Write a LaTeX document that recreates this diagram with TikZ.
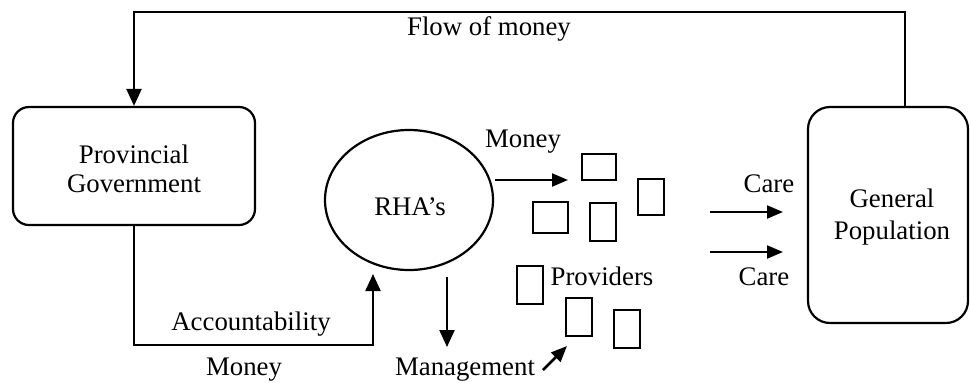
\documentclass[tikz,border=0pt]{standalone}
\usepackage{fontspec}
\setmainfont{Liberation Serif}
\usetikzlibrary{arrows.meta,shapes.geometric}
\begin{document}
\begin{tikzpicture}[x=0.5pt,y=-0.5pt,line width=1.1pt,
  arr/.style={-{Triangle[length=8.5pt,width=7.5pt]}},
  sarr/.style={-{Triangle[length=8pt,width=6.5pt]}},
  txt/.style={font=\fontsize{13.4}{14.5}\selectfont},
  lbl/.style={txt,inner sep=0pt,anchor=base},
  bigbox/.style={draw,txt,align=center,inner sep=0pt},
  prov/.style={draw,line width=1.1pt,inner sep=0pt}]
\useasboundingbox (0,0) rectangle (970,382);
% main nodes
\node[bigbox,rounded corners=8pt,minimum width=121pt,minimum height=59pt] (pg) at (134,166) {};
\node[lbl] (pgt1) at (134,163) {Provincial};
\node[lbl] (pgt2) at (134,192) {Government};
\node[bigbox,rounded corners=11pt,minimum width=80pt,minimum height=108pt] (gp) at (888,215) {};
\node[lbl] (gpt1) at (892,207) {General};
\node[lbl] (gpt2) at (892,239) {Population};
\node[draw,ellipse,inner sep=0pt,minimum width=84pt,minimum height=70pt] (rha) at (409,200) {};
\node[lbl] (rhat) at (410,215) {RHA’s};
% provider boxes
\node[prov,minimum width=17pt,minimum height=13pt] (b1) at (599,167) {};
\node[prov,minimum width=13pt,minimum height=18pt] (b2) at (651,197) {};
\node[prov,minimum width=17.5pt,minimum height=15.5pt] (b3) at (550.5,217.5) {};
\node[prov,minimum width=13pt,minimum height=19pt] (b4) at (603,222) {};
\node[prov,minimum width=13pt,minimum height=19pt] (b5) at (530,285) {};
\node[prov,minimum width=13pt,minimum height=19pt] (b6) at (579,317) {};
\node[prov,minimum width=13pt,minimum height=19pt] (b7) at (627,329) {};
% labels
\node[lbl] (flow) at (489,35) {Flow of money};
\node[lbl] (money1) at (523,147) {Money};
\node[lbl] (providers) at (602,285) {Providers};
\node[lbl] (care1) at (769,192) {Care};
\node[lbl] (care2) at (764,285) {Care};
\node[lbl] (acc) at (251,330) {Accountability};
\node[lbl] (money2) at (244,375) {Money};
\node[lbl] (mgmt) at (465,375) {Management};
% coordinates
\coordinate (accend) at (373,274);
\coordinate (mgs) at (447,277);
\coordinate (mge) at (447,347);
\coordinate (ms) at (495,180);
\coordinate (me) at (568,180);
\coordinate (c1s) at (710,212);
\coordinate (c1e) at (783,212);
\coordinate (c2s) at (710,252);
\coordinate (c2e) at (783,252);
\coordinate (sas) at (543,370);
\coordinate (sae) at (567,346);
\coordinate (gptop) at (905,107);
% connectors
\draw[arr] (gptop) -- ++(0,-95) -| (pg.north);
\draw[arr] (pg.south) |- (373,345) -- (accend);
\draw[arr] (mgs) -- (mge);
\draw[sarr] (ms) -- (me);
\draw[sarr] (c1s) -- (c1e);
\draw[sarr] (c2s) -- (c2e);
\draw[sarr,line width=1.3pt] (sas) -- (sae);
\end{tikzpicture}
\end{document}
